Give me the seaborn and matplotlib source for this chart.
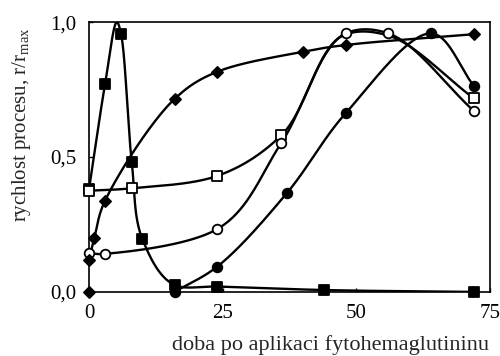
import numpy as np
import pandas as pd
import matplotlib
matplotlib.use("Agg")
import matplotlib.pyplot as plt
import seaborn as sns

sns.set_theme(style="ticks")
plt.rcParams['font.family'] = ['Liberation Serif', 'DejaVu Serif']
plt.rcParams['mathtext.fontset'] = 'custom'
plt.rcParams['mathtext.rm'] = 'Liberation Serif'
plt.rcParams['mathtext.it'] = 'Liberation Serif:italic'

# data (time in h, relative rate r/rmax)
# filled squares (the peak at ~5 h has no marker)
sq_fill_x = [0, 3, 5.2, 6, 8, 10, 16, 24, 44, 72]
sq_fill_y = [0.38, 0.77, 1.0, 0.955, 0.48, 0.195, 0.026, 0.02, 0.007, 0.0]
sq_fill_mark = [1, 1, 0, 1, 1, 1, 1, 1, 1, 1]

# open squares (curve shares the open-circle path near the top)
sq_open_x = [0, 8, 24, 36, 47.5, 56, 72]
sq_open_y = [0.375, 0.384, 0.43, 0.581, 0.95, 0.95, 0.717]
sq_open_mark = [1, 1, 1, 1, 0, 0, 1]

# open circles
ci_open_x = [0, 3, 24, 36, 48, 56, 72]
ci_open_y = [0.143, 0.141, 0.233, 0.553, 0.958, 0.958, 0.67]

# filled circles
ci_fill_x = [16, 24, 37, 48, 64, 72]
ci_fill_y = [0.0, 0.094, 0.366, 0.662, 0.958, 0.763]

# diamonds (the first one at 0 h sits on the axis, not joined)
dia_x = [0, 0, 1, 3, 16, 24, 40, 48, 72]
dia_y = [0.0, 0.12, 0.2, 0.338, 0.715, 0.816, 0.89, 0.915, 0.955]

x_ticks = [0, 25, 50, 75]
y_ticks = [0, 0.5, 1.0]
y_tick_labels = ['0,0', '0,5', '1,0']


def smooth(xs, ys, n=40):
    # centripetal Catmull-Rom through the points, x scaled to the axis span
    P = np.column_stack([np.asarray(xs, float) / 75.0, np.asarray(ys, float)])
    P = np.vstack([2 * P[0] - P[1], P, 2 * P[-1] - P[-2]])
    out = []
    for i in range(1, len(P) - 2):
        p0, p1, p2, p3 = P[i - 1], P[i], P[i + 1], P[i + 2]
        t0 = 0.0
        t1 = t0 + max(np.linalg.norm(p1 - p0), 1e-6) ** 0.5
        t2 = t1 + max(np.linalg.norm(p2 - p1), 1e-6) ** 0.5
        t3 = t2 + max(np.linalg.norm(p3 - p2), 1e-6) ** 0.5
        t = np.linspace(t1, t2, n)[:, None]
        a1 = (t1 - t) / (t1 - t0) * p0 + (t - t0) / (t1 - t0) * p1
        a2 = (t2 - t) / (t2 - t1) * p1 + (t - t1) / (t2 - t1) * p2
        a3 = (t3 - t) / (t3 - t2) * p2 + (t - t2) / (t3 - t2) * p3
        b1 = (t2 - t) / (t2 - t0) * a1 + (t - t0) / (t2 - t0) * a2
        b2 = (t3 - t) / (t3 - t1) * a2 + (t - t1) / (t3 - t1) * a3
        c = (t2 - t) / (t2 - t1) * b1 + (t - t1) / (t2 - t1) * b2
        out.append(c)
    out = np.vstack(out)
    return out[:, 0] * 75.0, out[:, 1]


fig, ax = plt.subplots(figsize=(5.0, 3.56), dpi=100)
fig.subplots_adjust(left=0.178, right=0.98, top=0.938, bottom=0.18)

lw = 1.7
series = [
    (sq_fill_x, sq_fill_y, sq_fill_mark, 's', 'black', 62),
    (sq_open_x, sq_open_y, sq_open_mark, 's', 'white', 62),
    (ci_open_x, ci_open_y, [1] * len(ci_open_x), 'o', 'white', 48),
    (ci_fill_x, ci_fill_y, [1] * len(ci_fill_x), 'o', 'black', 48),
    (dia_x[1:], dia_y[1:], [1] * (len(dia_x) - 1), 'D', 'black', 32),
]

# curves first
for xs, ys, mk, m, fc, s in series:
    cx, cy = smooth(xs, ys)
    sns.lineplot(x=cx, y=cy, sort=False, estimator=None, color='black',
                 linewidth=lw, ax=ax, zorder=2)

# markers on top
for xs, ys, mk, m, fc, s in series:
    df = pd.DataFrame({'x': xs, 'y': ys, 'm': mk})
    df = df[df['m'] == 1]
    sns.scatterplot(data=df, x='x', y='y', marker=m, s=s, color=fc,
                    edgecolor='black', linewidth=1.3, ax=ax, zorder=3,
                    clip_on=False)

sns.scatterplot(x=dia_x[:1], y=dia_y[:1], marker='D', s=32, color='black',
                edgecolor='black', linewidth=1.3, ax=ax, zorder=3, clip_on=False)

ax.set_xlim(0, 75)
ax.set_ylim(0, 1.0)
ax.set_xticks(x_ticks)
ax.set_xticklabels([str(v) for v in x_ticks])
ax.set_yticks(y_ticks)
ax.set_yticklabels(y_tick_labels)
ax.tick_params(direction='in', length=3, width=1, pad=9, labelsize=15,
               colors='black')
for sp in ax.spines.values():
    sp.set_color('black')
    sp.set_linewidth(1.2)

ax.set_xlabel('doba po aplikaci fytohemaglutininu', fontsize=16)
ax.set_ylabel(r'rychlost procesu, r/r$_{\mathrm{max}}$', fontsize=15)
ax.xaxis.set_label_coords(0.603, -0.16)
ax.yaxis.set_label_coords(-0.14, 0.62)

fig.savefig('out.png', dpi=100, facecolor='white')
